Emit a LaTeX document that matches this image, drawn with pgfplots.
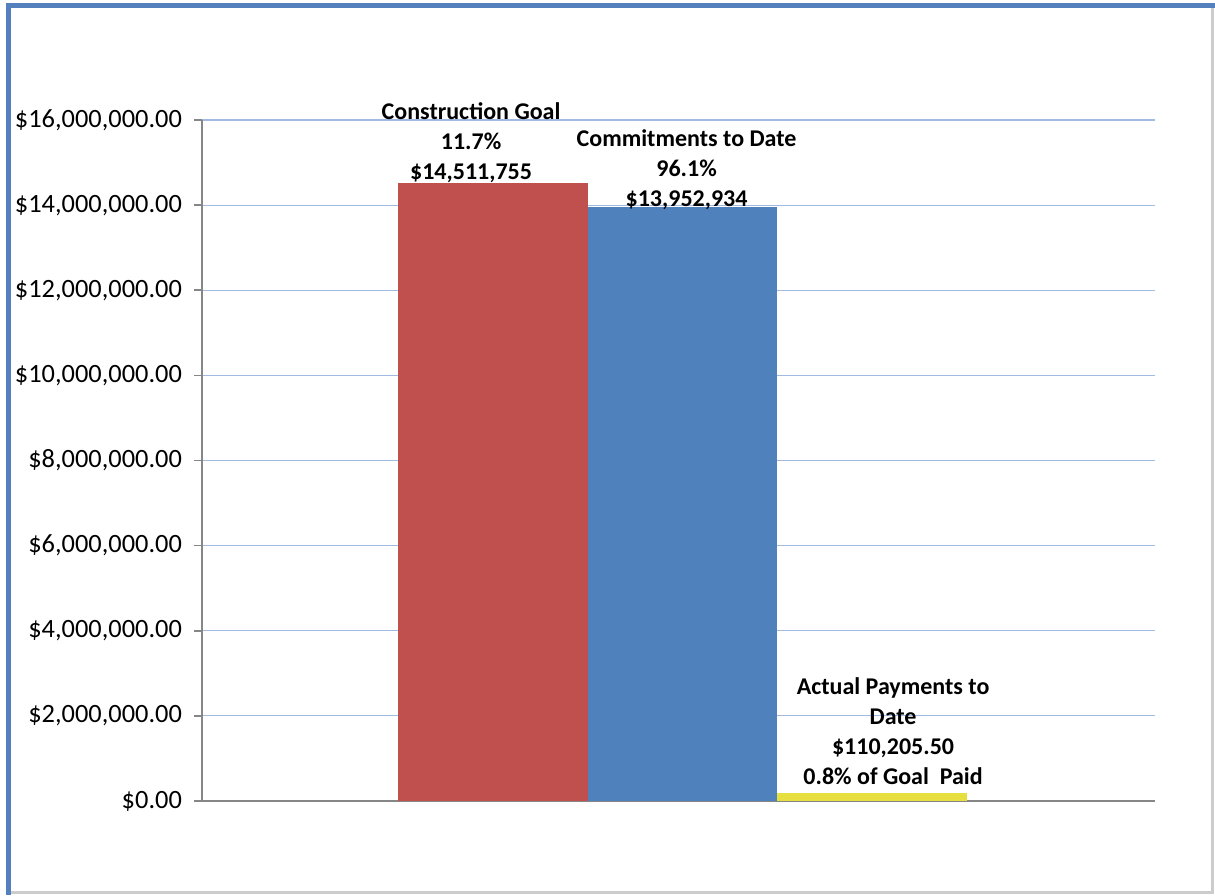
\documentclass[border=0pt]{standalone}
\usepackage{pgfplots}
\pgfplotsset{compat=1.18}
\usepackage{fontspec}
\setmainfont{Carlito}
\definecolor{cred}{HTML}{C0504D}
\definecolor{cblue}{HTML}{4F81BD}
\definecolor{cyel}{HTML}{E6DF3F}
\definecolor{cgrid}{RGB}{160,186,226}
\definecolor{caxis}{HTML}{868686}
\definecolor{cframe}{HTML}{5481BE}
\begin{document}
\begin{tikzpicture}[x=0.5pt,y=0.5pt]
\useasboundingbox (0,0) rectangle (1215,895);
\fill[white] (0,0) rectangle (1215,895);
\draw[gray!40,line width=1.5pt] (1212,890) -- (1212,3) -- (9,3);
\draw[cframe,line width=2.5pt] (8,0) -- (8,889) -- (1215,889);
\begin{axis}[
  at={(101pt,47pt)}, anchor=south west,
  width=476.5pt, height=340.5pt, scale only axis,
  xmin=-0.536, xmax=4.493,
  ymin=0, ymax=16000000,
  axis x line=bottom, axis y line=left,
  axis line style={-, caxis, line width=0.8pt},
  xtick=\empty,
  ytick={0,2000000,4000000,6000000,8000000,10000000,12000000,14000000,16000000},
  yticklabels={{\$0.00},{\$2,000,000.00},{\$4,000,000.00},{\$6,000,000.00},{\$8,000,000.00},{\$10,000,000.00},{\$12,000,000.00},{\$14,000,000.00},{\$16,000,000.00}},
  scaled y ticks=false,
  ymajorgrids, grid style={cgrid, line width=0.6pt},
  tick style={caxis, line width=0.8pt},
  major tick length=4pt,
  tick align=outside,
  yticklabel style={font=\fontsize{13.2}{15}\selectfont, xshift=-2.5pt},
  clip=false,
]
\addplot[ybar, bar width=1, bar shift=0pt, fill=cred, draw=none] coordinates {(1,14511755)};
\addplot[ybar, bar width=1, bar shift=0pt, fill=cblue, draw=none] coordinates {(2,13952934)};
\addplot[ybar, bar width=1, bar shift=0pt, fill=cyel, draw=none] coordinates {(3,180000)};
\node[anchor=south, align=center, font=\fontsize{12}{15}\selectfont\bfseries, xshift=-11pt, yshift=-1pt, inner sep=1pt] at (axis cs:1,14511755) {Construction Goal\\11.7\%\\\$14,511,755};
\node[anchor=south, align=center, font=\fontsize{12}{15}\selectfont\bfseries, xshift=2pt, yshift=-2.5pt, inner sep=1pt] at (axis cs:2,13952934) {Commitments to Date\\96.1\%\\\$13,952,934};
\node[anchor=south, align=center, font=\fontsize{12}{15}\selectfont\bfseries, xshift=10.5pt, yshift=3pt, inner sep=1pt] at (axis cs:3,180000) {Actual Payments to\\Date\\\$110,205.50\\0.8\% of Goal~ Paid};
\end{axis}
\end{tikzpicture}
\end{document}
